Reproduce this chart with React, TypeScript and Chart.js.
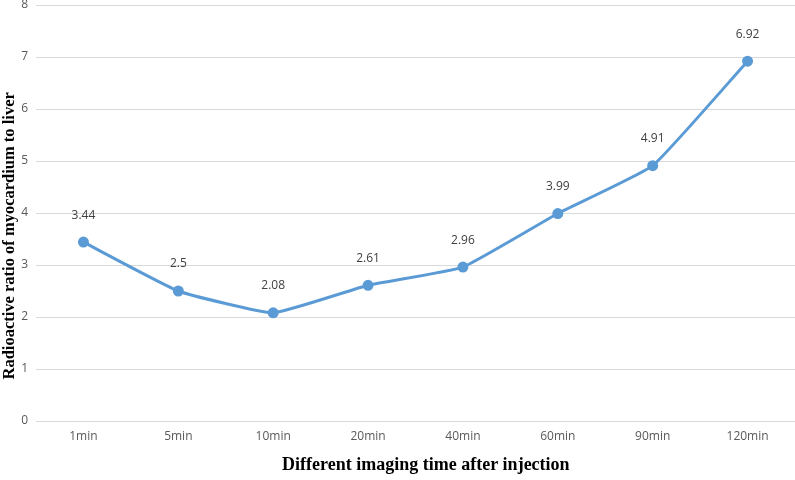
import React, { useEffect, useRef } from "react";
import { Chart, registerables } from "chart.js";

Chart.register(...registerables);

const categories = ["1min", "5min", "10min", "20min", "40min", "60min", "90min", "120min"];
const ratioValues = [3.44, 2.5, 2.08, 2.61, 2.96, 3.99, 4.91, 6.92];
const valueLabels = ["3.44", "2.5", "2.08", "2.61", "2.96", "3.99", "4.91", "6.92"];
const xTitle = "Different imaging time after injection";
const yTitle = "Radioactive ratio of myocardium to liver";

const titleFont = "bold 17px 'Liberation Serif', 'Times New Roman', serif";

const dataLabelPlugin = {
  id: "dataLabels",
  afterDatasetsDraw(chart: any) {
    const ctx = chart.ctx;
    const meta = chart.getDatasetMeta(0);
    ctx.save();
    ctx.font = "12px 'Open Sans', 'DejaVu Sans', sans-serif";
    ctx.fillStyle = "#404040";
    ctx.textAlign = "center";
    ctx.textBaseline = "middle";
    meta.data.forEach((pt: any, i: number) => {
      ctx.fillText(valueLabels[i], pt.x, pt.y - 27);
    });
    ctx.restore();
  },
};

const axisTitlePlugin = {
  id: "axisTitles",
  afterDraw(chart: any) {
    const ctx = chart.ctx;
    const area = chart.chartArea;
    ctx.save();
    ctx.fillStyle = "#000";
    ctx.textAlign = "center";
    ctx.textBaseline = "middle";
    ctx.font = "bold 18px 'Liberation Serif', 'Times New Roman', serif";
    ctx.fillText(xTitle, area.left + (area.right - area.left) * 0.5136, chart.height - 15);
    ctx.translate(10, area.top + (area.bottom - area.top) * 0.555);
    ctx.rotate(-Math.PI / 2);
    ctx.font = "bold 16.5px 'Liberation Serif', 'Times New Roman', serif";
    ctx.fillText(yTitle, 0, 0);
    ctx.restore();
  },
};

export default function App() {
  const ref = useRef<HTMLCanvasElement | null>(null);
  useEffect(() => {
    document.body.style.margin = "0";
    const chart = new Chart(ref.current as HTMLCanvasElement, {
      type: "line",
      data: {
        labels: categories,
        datasets: [
          {
            data: ratioValues,
            borderColor: "#5B9BD5",
            backgroundColor: "#5B9BD5",
            borderWidth: 3,
            pointRadius: 4,
            pointBackgroundColor: "#5B9BD5",
            pointBorderColor: "#5B9BD5",
            tension: 0.12,
            fill: false,
            clip: false,
          },
        ],
      },
      options: {
        animation: false,
        responsive: false,
        maintainAspectRatio: false,
        layout: { autoPadding: false, padding: { top: 5, right: 0, left: 0, bottom: 0 } },
        plugins: { legend: { display: false }, tooltip: { enabled: false } },
        scales: {
          x: {
            type: "category",
            offset: true,
            grid: { display: false, drawTicks: false },
            border: { display: true, color: "#d9d9d9", width: 1 },
            ticks: {
              color: "#595959",
              font: { size: 12, family: "'Open Sans', 'DejaVu Sans', sans-serif" },
              padding: 8,
            },
            title: { display: false, text: xTitle },
            afterFit(scale: any) {
              scale.height = 59;
              scale.paddingLeft = 0;
              scale.paddingRight = 0;
            },
          },
          y: {
            min: 0,
            max: 8,
            grid: { color: "#d9d9d9", drawTicks: false, lineWidth: 1 },
            border: { display: false },
            ticks: {
              stepSize: 1,
              color: "#595959",
              font: { size: 12, family: "'Open Sans', 'DejaVu Sans', sans-serif" },
              padding: 8,
            },
            title: { display: false, text: yTitle },
            afterFit(scale: any) {
              scale.width = 36;
              scale.paddingTop = 0;
              scale.paddingBottom = 0;
            },
          },
        },
      },
      plugins: [dataLabelPlugin, axisTitlePlugin],
    });
    return () => chart.destroy();
  }, []);
  return (
    <div style={{ width: 795, height: 480 }}>
      <canvas ref={ref} width={795} height={480} style={{ display: "block" }} />
    </div>
  );
}
